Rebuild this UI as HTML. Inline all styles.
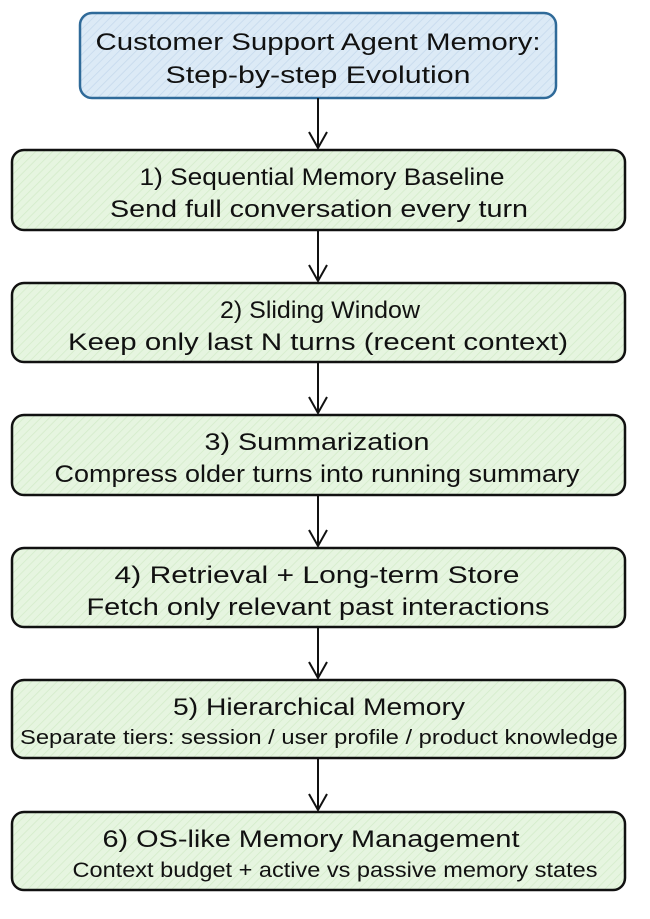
<!DOCTYPE html>
<html><head><meta charset="utf-8"><style>
html,body{margin:0;padding:0;background:#fff;width:650px;height:919px;overflow:hidden}
svg{display:block}
text{font-family:"Liberation Sans",sans-serif;fill:#111;text-anchor:middle}
</style></head><body>
<svg width="650" height="919" viewBox="0 0 650 919">
<defs>
<pattern id="hb" width="6" height="6" patternUnits="userSpaceOnUse" patternTransform="rotate(45)">
<rect width="6" height="6" fill="#dceaf6"/><line x1="0" y1="0" x2="0" y2="6" stroke="#c5d9ec" stroke-width="1.5"/></pattern>
<pattern id="hg" width="6" height="6" patternUnits="userSpaceOnUse" patternTransform="rotate(45)">
<rect width="6" height="6" fill="#e6f5e0"/><line x1="0" y1="0" x2="0" y2="6" stroke="#d3ebc9" stroke-width="1.5"/></pattern>
</defs>
<rect x="80" y="13" width="476" height="85" rx="12" fill="url(#hb)" stroke="#2f6a99" stroke-width="2.5"/>
<g font-size="24">
<text x="318" y="50" textLength="445" lengthAdjust="spacingAndGlyphs">Customer Support Agent Memory:</text>
<text x="318" y="83" textLength="305" lengthAdjust="spacingAndGlyphs">Step-by-step Evolution</text>
</g>
<g stroke="#111" stroke-width="2" fill="none">
<path d="M318 98V148M309 132L318 148L327 132"/>
<path d="M318 230V281M309 265L318 281L327 265"/>
<path d="M318 362V413M309 397L318 413L327 397"/>
<path d="M318 495V546M309 530L318 546L327 530"/>
<path d="M318 627V678M309 662L318 678L327 662"/>
<path d="M318 758V810M309 794L318 810L327 794"/>
</g>
<g fill="url(#hg)" stroke="#111" stroke-width="2.5">
<rect x="12" y="150" width="613" height="80" rx="12"/>
<rect x="12" y="283" width="613" height="79" rx="12"/>
<rect x="12" y="415" width="613" height="80" rx="12"/>
<rect x="12" y="548" width="613" height="79" rx="12"/>
<rect x="12" y="680" width="613" height="78" rx="12"/>
<rect x="12" y="812" width="613" height="78" rx="12"/>
</g>
<g font-size="24">
<text x="322" y="185" textLength="365" lengthAdjust="spacingAndGlyphs">1) Sequential Memory Baseline</text>
<text x="319" y="217" textLength="418" lengthAdjust="spacingAndGlyphs">Send full conversation every turn</text>
<text x="320" y="318" textLength="200" lengthAdjust="spacingAndGlyphs">2) Sliding Window</text>
<text x="318" y="350" textLength="500" lengthAdjust="spacingAndGlyphs">Keep only last N turns (recent context)</text>
<text x="317" y="450" textLength="225" lengthAdjust="spacingAndGlyphs">3) Summarization</text>
<text x="317" y="482" textLength="525" lengthAdjust="spacingAndGlyphs">Compress older turns into running summary</text>
<text x="317" y="583" textLength="405" lengthAdjust="spacingAndGlyphs">4) Retrieval + Long-term Store</text>
<text x="318" y="615" textLength="463" lengthAdjust="spacingAndGlyphs">Fetch only relevant past interactions</text>
<text x="319" y="715" textLength="292" lengthAdjust="spacingAndGlyphs">5) Hierarchical Memory</text>
<text x="319" y="744" font-size="20" textLength="598" lengthAdjust="spacingAndGlyphs">Separate tiers: session / user profile / product knowledge</text>
<text x="311" y="847" textLength="417" lengthAdjust="spacingAndGlyphs">6) OS-like Memory Management</text>
<text x="335" y="877" font-size="21" textLength="525" lengthAdjust="spacingAndGlyphs">Context budget + active vs passive memory states</text>
</g>
</svg>
</body></html>
